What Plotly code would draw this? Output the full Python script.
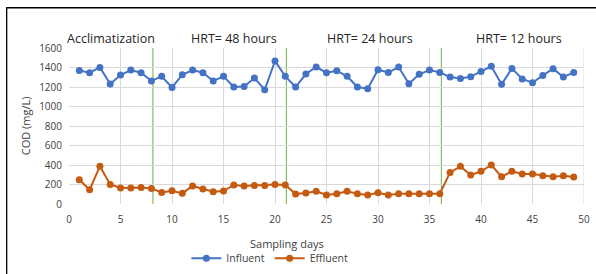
import plotly.graph_objects as go

days = list(range(1, 50))
influent = [1370, 1347, 1401, 1231, 1323, 1374, 1347, 1262, 1309, 1196,
            1326, 1374, 1347, 1262, 1309, 1200, 1206, 1292, 1172, 1467,
            1309, 1200, 1333, 1405, 1347, 1367, 1309, 1200, 1183, 1377,
            1350, 1405, 1234, 1330, 1374, 1350, 1302, 1288, 1306, 1360,
            1412, 1227, 1391, 1282, 1244, 1319, 1388, 1302, 1350]
effluent = [249, 147, 386, 201, 164, 164, 170, 160, 119, 136,
            109, 185, 154, 126, 133, 195, 185, 191, 191, 201,
            195, 102, 113, 130, 92, 106, 130, 106, 92, 116,
            92, 106, 106, 106, 106, 106, 324, 386, 297, 335,
            400, 280, 335, 307, 307, 290, 280, 290, 277]
phase_boundaries = [8.15, 21.1, 36.15]
phase_labels = ["Acclimatization", "HRT= 48 hours", "HRT= 24 hours", "HRT= 12 hours"]
phase_label_x = [4.1, 16.0, 29.2, 43.7]

FONT = "Open Sans"
TXT = "#404040"

fig = go.Figure()
fig.add_trace(go.Scatter(x=days, y=influent, name="Influent", mode="lines+markers",
                         line=dict(color="#4472C4", width=2),
                         marker=dict(color="#4472C4", size=7)))
fig.add_trace(go.Scatter(x=days, y=effluent, name="Effluent", mode="lines+markers",
                         line=dict(color="#C55A11", width=2),
                         marker=dict(color="#C55A11", size=7)))

for xb in phase_boundaries:
    fig.add_shape(type="line", x0=xb, x1=xb, y0=0, y1=1600, xref="x", yref="y",
                  line=dict(color="#70AD47", width=1), layer="below")

for lbl, lx in zip(phase_labels, phase_label_x):
    fig.add_annotation(x=lx, y=1.0, xref="x", yref="paper", text=lbl, showarrow=False,
                       yanchor="middle", yshift=10, font=dict(family=FONT, size=12.5, color="#262626"))

# axis titles
fig.add_annotation(x=0.423, y=-0.25, xref="paper", yref="paper", text="Sampling days",
                   showarrow=False, yanchor="middle", font=dict(family=FONT, size=11, color=TXT))
fig.add_annotation(x=-0.085, y=0.5, xref="paper", yref="paper", text="COD (mg/L)", textangle=-90,
                   showarrow=False, xanchor="center", yanchor="middle",
                   font=dict(family=FONT, size=11, color=TXT))

# outer frame (left and top edges visible)
fig.add_shape(type="rect", xref="paper", yref="paper", x0=-0.121, x1=1.1, y0=-0.6, y1=1.258,
              line=dict(color="black", width=1.3), fillcolor="rgba(0,0,0,0)")

fig.update_layout(
    width=596, height=274,
    margin=dict(l=69, r=12, t=48, b=70, autoexpand=False),
    plot_bgcolor="white", paper_bgcolor="white",
    font=dict(family=FONT, size=10, color=TXT),
    showlegend=True,
    legend=dict(orientation="h", x=0.39, xanchor="center", y=-0.255, yanchor="top",
                font=dict(family=FONT, size=10.5, color=TXT), itemwidth=30,
                tracegroupgap=0),
    xaxis=dict(range=[0, 50], dtick=5, showgrid=True, gridcolor="#D9D9D9", gridwidth=1,
               zeroline=False, showline=False, ticks="", tickfont=dict(size=10, color=TXT),
               automargin=False, ticklabelstandoff=8),
    yaxis=dict(range=[0, 1600], dtick=200, showgrid=True, gridcolor="#D9D9D9", gridwidth=1,
               zeroline=False, showline=False, ticks="", tickfont=dict(size=10, color=TXT),
               automargin=False, ticklabelstandoff=6),
)
fig.add_shape(type="line", xref="x", yref="y", x0=50, x1=50, y0=0, y1=1600,
              line=dict(color="#D9D9D9", width=1), layer="below")

fig.write_html("out.html", config={"displayModeBar": False},
               post_script="document.body.style.margin='0';document.body.style.overflow='hidden';")
